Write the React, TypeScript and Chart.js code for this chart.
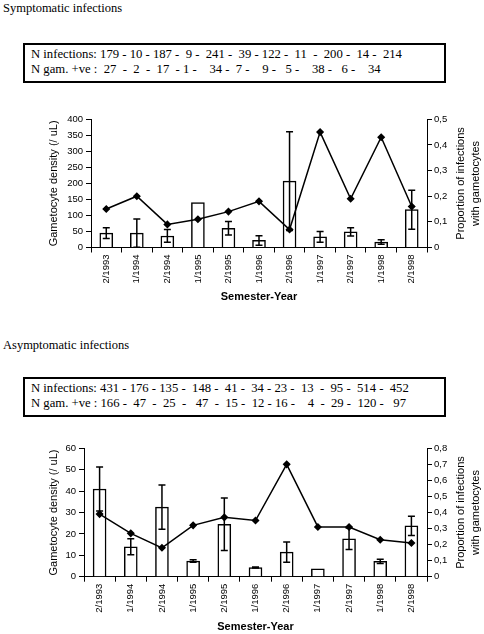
import React, { useEffect, useRef } from 'react';
import { Chart, registerables } from 'chart.js';

Chart.register(...registerables);

const categories = ['2/1993', '1/1994', '2/1994', '1/1995', '2/1995', '1/1996', '2/1996', '1/1997', '2/1997', '1/1998', '2/1998'];

const sympDensity = [45, 45, 36, 140, 60, 22, 207, 33, 49, 17, 118];
const sympDensityErr = [17, 44, 20, 0, 21, 15, 154, 17, 13, 7, 61];
const sympProportion = [0.15, 0.2, 0.09, 0.11, 0.14, 0.18, 0.07, 0.45, 0.19, 0.43, 0.16];

const asympDensity = [41, 14, 32.5, 7.3, 24.5, 4.3, 11.5, 3.7, 17.7, 7.2, 23.8];
const asympDensityErr = [10.3, 3.7, 10.3, 0.6, 12.3, 0.2, 4.7, 0, 5, 1, 4.5];
const asympProportion = [0.39, 0.27, 0.18, 0.32, 0.37, 0.35, 0.7, 0.31, 0.31, 0.23, 0.21];

const sympTitle = 'Symptomatic infections';
const asympTitle = 'Asymptomatic infections';
const sympLine1 = 'N infections: 179 - 10 - 187 -  9 -  241 -  39 - 122 -  11  -  200 -  14 -  214';
const sympLine2 = 'N gam. +ve :  27  -  2  -  17  - 1 -    34 -  7 -    9 -   5 -    38 -   6 -    34';
const asympLine1 = 'N infections: 431 - 176 - 135 -  148 -  41 -  34 - 23 -  13  -  95 -  514 -  452';
const asympLine2 = 'N gam. +ve : 166 -  47  -  25  -   47  -  15 -  12 - 16 -    4  -  29 -  120 -   97';

const leftTitle = 'Gametocyte density (/ uL)';
const rightTitle = ['Proportion of infections', 'with gametocytes'];
const xTitle = 'Semester-Year';

const SANS = "'Liberation Sans', Arial, sans-serif";
const SERIF = "'Liberation Serif', 'Times New Roman', serif";

type ChartProps = {
  top: number;
  height: number;
  density: number[];
  err: number[];
  prop: number[];
  yMax: number;
  yStep: number;
  y1Max: number;
  padTop: number;
  leftWidth: number;
  xHeight: number;
  xTitlePad: number;
};

function DualChart(p: ChartProps) {
  const ref = useRef<HTMLCanvasElement | null>(null);
  useEffect(() => {
    if (!ref.current) return;
    const errorBars = {
      id: 'errorBars',
      afterDatasetsDraw(chart: any) {
        const meta = chart.getDatasetMeta(0);
        const y = chart.scales.y;
        const ctx = chart.ctx;
        ctx.save();
        ctx.strokeStyle = '#000';
        ctx.lineWidth = 1.5;
        meta.data.forEach((el: any, i: number) => {
          const e = p.err[i];
          if (!e) return;
          const v = p.density[i];
          const yt = y.getPixelForValue(v + e);
          const yb = y.getPixelForValue(Math.max(0, v - e));
          const x = el.x;
          ctx.beginPath();
          ctx.moveTo(x, yt);
          ctx.lineTo(x, yb);
          ctx.moveTo(x - 3.5, yt);
          ctx.lineTo(x + 3.5, yt);
          ctx.moveTo(x - 3.5, yb);
          ctx.lineTo(x + 3.5, yb);
          ctx.stroke();
        });
        ctx.restore();
      },
    };
    const rightAxisTitle = {
      id: 'rightAxisTitle',
      afterDraw(chart: any) {
        const ctx = chart.ctx;
        const a = chart.chartArea;
        const cy = (a.top + a.bottom) / 2;
        ctx.save();
        ctx.fillStyle = '#000';
        ctx.font = `11px ${SANS}`;
        ctx.textAlign = 'center';
        ctx.textBaseline = 'middle';
        const xs = [461, 476];
        rightTitle.forEach((t, i) => {
          ctx.save();
          ctx.translate(xs[i], cy);
          ctx.rotate(-Math.PI / 2);
          ctx.fillText(t, 0, 0);
          ctx.restore();
        });
        ctx.restore();
      },
    };
    const tickFont = { size: 9.5, family: SANS };
    const chart = new Chart(ref.current, {
      type: 'bar',
      data: {
        labels: categories,
        datasets: [
          {
            type: 'bar',
            data: p.density,
            yAxisID: 'y',
            backgroundColor: '#fff',
            borderColor: '#000',
            borderWidth: 1.5,
            barThickness: 13,
            order: 2,
          } as any,
          {
            type: 'line',
            data: p.prop,
            yAxisID: 'y1',
            borderColor: '#000',
            borderWidth: 1.5,
            pointStyle: 'rectRot',
            pointRadius: 3,
            pointBackgroundColor: '#000',
            pointBorderColor: '#000',
            tension: 0,
            order: 1,
          } as any,
        ],
      },
      options: {
        responsive: false,
        animation: false,
        layout: { padding: { top: p.padTop, left: 47, right: 0, bottom: 0 } },
        plugins: { legend: { display: false }, tooltip: { enabled: false } },
        scales: {
          x: {
            grid: { offset: true, drawOnChartArea: false, drawTicks: true, tickLength: 5, color: '#000' },
            border: { color: '#000', width: 1 },
            ticks: { minRotation: 90, maxRotation: 90, font: tickFont, color: '#000', padding: 2, autoSkip: false },
            title: {
              display: true,
              text: xTitle,
              color: '#000',
              font: { size: 11, weight: 'bold', family: SANS },
              padding: { top: 0, bottom: p.xTitlePad },
            },
            afterFit: (s: any) => {
              s.height = p.xHeight;
            },
          },
          y: {
            position: 'left',
            min: 0,
            max: p.yMax,
            grid: { drawOnChartArea: false, drawTicks: true, tickLength: 5, color: '#000' },
            border: { color: '#000', width: 1 },
            ticks: { stepSize: p.yStep, font: tickFont, color: '#000', padding: 3 },
            title: {
              display: true,
              text: leftTitle,
              color: '#000',
              font: { size: 11, family: SANS },
              padding: 0,
            },
            afterFit: (s: any) => {
              s.width = p.leftWidth;
            },
          },
          y1: {
            position: 'right',
            min: 0,
            max: p.y1Max,
            grid: { drawOnChartArea: false, drawTicks: true, tickLength: 5, color: '#000' },
            border: { color: '#000', width: 1 },
            ticks: {
              stepSize: 0.1,
              font: tickFont,
              color: '#000',
              padding: 2,
              callback: (v: any) => (Number(v) === 0 ? '0' : Number(v).toFixed(1).replace('.', ',')),
            },
            afterFit: (s: any) => {
              s.width = 57;
            },
          },
        },
      } as any,
      plugins: [errorBars, rightAxisTitle],
    });
    return () => chart.destroy();
  }, []);
  return (
    <canvas
      ref={ref}
      width={484}
      height={p.height}
      style={{ position: 'absolute', left: 0, top: p.top, width: 484, height: p.height }}
    />
  );
}

function NBox({ top, l1, l2 }: { top: number; l1: string; l2: string }) {
  return (
    <div
      style={{
        position: 'absolute',
        left: 23,
        top,
        width: 423,
        height: 40,
        boxSizing: 'border-box',
        border: '2px solid #000',
        padding: '2px 0 0 6px',
        fontFamily: SERIF,
        fontSize: 12.7,
        lineHeight: '15.3px',
        whiteSpace: 'pre',
        color: '#000',
      }}
    >
      <div>{l1}</div>
      <div>{l2}</div>
    </div>
  );
}

export default function App() {
  const titleStyle: React.CSSProperties = {
    position: 'absolute',
    left: 3,
    fontFamily: SERIF,
    fontSize: 12.5,
    lineHeight: '16px',
    color: '#000',
    whiteSpace: 'pre',
  };
  return (
    <div style={{ position: 'absolute', left: 0, top: 0, width: 484, height: 634, background: '#fff', overflow: 'hidden' }}>
      <div style={{ ...titleStyle, top: 0 }}>{sympTitle}</div>
      <NBox top={43} l1={sympLine1} l2={sympLine2} />
      <DualChart
        top={100}
        height={210}
        density={sympDensity}
        err={sympDensityErr}
        prop={sympProportion}
        yMax={400}
        yStep={50}
        y1Max={0.5}
        padTop={19.3}
        leftWidth={44}
        xHeight={62.5}
        xTitlePad={6.4}
      />
      <div style={{ ...titleStyle, top: 337 }}>{asympTitle}</div>
      <NBox top={377} l1={asympLine1} l2={asympLine2} />
      <DualChart
        top={430}
        height={204}
        density={asympDensity}
        err={asympDensityErr}
        prop={asympProportion}
        yMax={60}
        yStep={10}
        y1Max={0.8}
        padTop={18.3}
        leftWidth={37}
        xHeight={57.3}
        xTitlePad={0.7}
      />
    </div>
  );
}
